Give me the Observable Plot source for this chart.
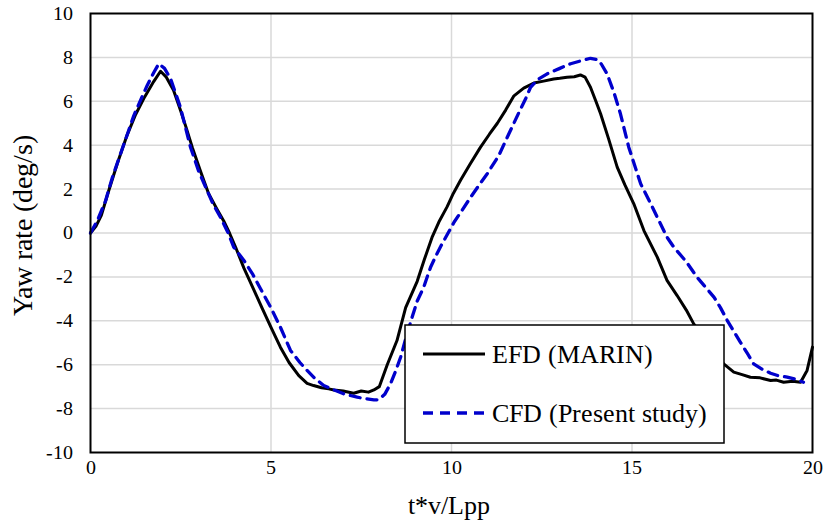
<!DOCTYPE html>
<html>
<head>
<meta charset="utf-8">
<style>
  @font-face { font-family: "ChartSerif"; src: local("Liberation Serif"), local("LiberationSerif"), local("Times New Roman"), local("DejaVu Serif"); }
  body { margin: 0; background: #fff; }
  #chart { position: relative; width: 826px; height: 526px; }
  #chart text { font-family: "ChartSerif", "Liberation Serif", "Times New Roman", serif; }
</style>
<script src="https://cdn.jsdelivr.net/npm/d3@7"></script>
<script src="https://cdn.jsdelivr.net/npm/@observablehq/plot@0.6"></script>
</head>
<body>
<div id="chart"><div style="position:absolute;left:349px;top:493px;width:200px;text-align:center;font-family:'ChartSerif','Liberation Serif',serif;font-size:26px;line-height:26px;color:#000;z-index:2">t*v/Lpp</div></div>
<script>
// ---- data ----
const xTicks = [0, 5, 10, 15, 20];
const yTicks = [-10, -8, -6, -4, -2, 0, 2, 4, 6, 8, 10];
const seriesNames = ["EFD (MARIN)", "CFD (Present study)"];
const yTitle = "Yaw rate (deg/s)";

const efdT = [0, 0.15, 0.3, 0.5, 0.75, 1.0, 1.25, 1.5, 1.75, 1.94, 2.1, 2.3, 2.49, 2.65, 2.82, 3.05, 3.27, 3.5, 3.69, 3.85, 4.02, 4.25, 4.5, 4.76, 5.0, 5.26, 5.5, 5.77, 6.0, 6.18, 6.4, 6.6, 6.74, 7.0, 7.29, 7.5, 7.7, 7.85, 8.0, 8.22, 8.49, 8.73, 9.05, 9.25, 9.46, 9.65, 9.88, 10.05, 10.25, 10.5, 10.8, 11.05, 11.27, 11.5, 11.73, 12.0, 12.28, 12.55, 12.83, 13.0, 13.2, 13.4, 13.57, 13.7, 13.85, 14.0, 14.13, 14.35, 14.59, 14.8, 15.05, 15.33, 15.7, 15.97, 16.25, 16.5, 16.71, 17.0, 17.3, 17.54, 17.82, 18.05, 18.28, 18.55, 18.84, 19.0, 19.2, 19.45, 19.67, 19.85, 20.0];
const efdY = [0, 0.3, 0.8, 1.9, 3.2, 4.4, 5.4, 6.2, 6.9, 7.37, 7.1, 6.5, 5.6, 4.8, 3.9, 2.8, 1.8, 1.1, 0.55, 0.0, -0.65, -1.6, -2.5, -3.45, -4.3, -5.2, -5.9, -6.5, -6.85, -6.95, -7.05, -7.1, -7.15, -7.2, -7.3, -7.2, -7.25, -7.15, -7.0, -6.0, -4.9, -3.4, -2.2, -1.2, -0.2, 0.5, 1.2, 1.8, 2.4, 3.1, 3.9, 4.5, 5.0, 5.6, 6.25, 6.6, 6.83, 6.92, 7.02, 7.05, 7.1, 7.12, 7.2, 7.1, 6.64, 6.0, 5.43, 4.3, 3.0, 2.2, 1.33, 0.11, -1.1, -2.16, -2.85, -3.5, -4.14, -4.8, -5.5, -5.96, -6.34, -6.45, -6.57, -6.6, -6.72, -6.7, -6.8, -6.75, -6.8, -6.26, -5.2];

const cfdT = [0, 0.2, 0.42, 0.6, 0.83, 1.0, 1.2, 1.4, 1.57, 1.75, 1.89, 2.05, 2.22, 2.49, 2.77, 3.0, 3.23, 3.4, 3.6, 3.8, 3.97, 4.25, 4.5, 4.71, 4.99, 5.26, 5.54, 5.8, 6.0, 6.2, 6.46, 6.75, 7.02, 7.39, 7.6, 7.85, 7.98, 8.15, 8.31, 8.45, 8.59, 8.75, 8.91, 9.05, 9.23, 9.42, 9.58, 9.74, 10.07, 10.3, 10.53, 10.75, 10.99, 11.31, 11.59, 11.87, 12.05, 12.19, 12.4, 12.65, 13.0, 13.3, 13.6, 13.85, 14.04, 14.15, 14.31, 14.5, 14.68, 14.91, 15.24, 15.5, 15.7, 15.97, 16.16, 16.5, 16.8, 17.0, 17.27, 17.45, 17.64, 18.0, 18.2, 18.37, 18.6, 18.84, 19.05, 19.3, 19.5, 19.75];
const cfdY = [0, 0.6, 1.48, 2.5, 3.6, 4.4, 5.35, 6.1, 6.72, 7.3, 7.71, 7.5, 7.02, 5.73, 3.91, 2.8, 1.94, 1.3, 0.72, 0.05, -0.65, -1.25, -1.9, -2.54, -3.38, -4.29, -5.35, -5.9, -6.26, -6.6, -6.95, -7.15, -7.33, -7.48, -7.55, -7.6, -7.6, -7.35, -6.87, -6.3, -5.66, -4.7, -3.83, -3.1, -2.47, -1.56, -1.0, -0.49, 0.49, 1.05, 1.63, 2.15, 2.7, 3.53, 4.52, 5.5, 6.1, 6.64, 7.0, 7.25, 7.5, 7.71, 7.85, 7.96, 7.9, 7.7, 7.25, 6.4, 5.43, 3.91, 2.24, 1.4, 0.72, -0.19, -0.65, -1.3, -2.01, -2.4, -2.92, -3.4, -3.99, -4.97, -5.5, -5.96, -6.2, -6.39, -6.5, -6.57, -6.65, -6.8];

const efd = efdT.map((t, i) => ({t, y: efdY[i]}));
const cfd = cfdT.map((t, i) => ({t, y: cfdY[i]}));

const blue = "#0000cc";
const W = 826, H = 526;
const mL = 90, mR = 14, mT = 13, mB = 74;
const serifStack = "ChartSerif, Liberation Serif, Times New Roman, serif";

const chart = Plot.plot({
  width: W,
  height: H,
  marginLeft: mL,
  marginRight: mR,
  marginTop: mT,
  marginBottom: mB,
  style: {fontFamily: serifStack, fontSize: "20px"},
  x: {domain: [0, 20]},
  y: {domain: [-10, 10]},
  marks: [
    Plot.gridX(xTicks.slice(1, -1), {stroke: "#d9d9d9", strokeOpacity: 1, strokeWidth: 1.5}),
    Plot.gridY(yTicks.slice(1, -1), {stroke: "#d9d9d9", strokeOpacity: 1, strokeWidth: 1.5}),
    Plot.line(efd, {x: "t", y: "y", stroke: "#000", strokeWidth: 3, strokeLinejoin: "round"}),
    Plot.line(cfd, {x: "t", y: "y", stroke: blue, strokeWidth: 3.3, strokeDasharray: "10,7"}),
    Plot.frame({stroke: "#000", strokeWidth: 2}),
    Plot.axisX(xTicks, {tickSize: 0, tickPadding: 7, fontSize: 20, label: null}),
    Plot.axisY(yTicks, {tickSize: 0, tickPadding: 18, fontSize: 20, label: null, tickFormat: d => String(d)})
  ]
});

document.getElementById("chart").appendChild(chart);

const svg = d3.select(chart);
// y axis title
svg.append("text")
  .attr("transform", "translate(32, 225) rotate(-90)")
  .attr("text-anchor", "middle")
  .attr("font-size", 28).attr("fill", "#000")
  .text(yTitle);

// legend
const lg = svg.append("g");
lg.append("rect").attr("x", 405).attr("y", 325).attr("width", 319).attr("height", 118)
  .attr("fill", "#fff").attr("stroke", "#000").attr("stroke-width", 1.5);
const rows = [
  {name: seriesNames[0], stroke: "#000", dash: null, w: 3, y: 354},
  {name: seriesNames[1], stroke: blue, dash: "10,7", w: 3.3, y: 413}
];
rows.forEach(r => {
  lg.append("line").attr("x1", 423).attr("x2", 485).attr("y1", r.y).attr("y2", r.y)
    .attr("stroke", r.stroke).attr("stroke-width", r.w).attr("stroke-dasharray", r.dash);
  lg.append("text").attr("x", 492).attr("y", r.y + 9)
    .attr("text-anchor", "start")
    .attr("font-size", 26).attr("fill", "#000")
    .text(r.name);
});
svg.selectAll("text").attr("font-family", serifStack);
</script>
</body>
</html>
